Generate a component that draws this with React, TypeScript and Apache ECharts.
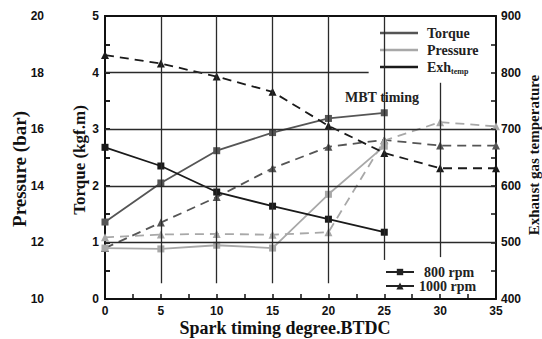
import React, { useEffect, useRef } from "react";
import * as echarts from "echarts";

// Spark timing (degrees BTDC)
const timing = [0, 5, 10, 15, 20, 25, 30, 35];

// Torque (kgf.m)
const torque800 = [1.36, 2.05, 2.62, 2.94, 3.19, 3.29];
const torque1000 = [0.9, 1.35, 1.8, 2.31, 2.69, 2.81, 2.71, 2.71];

// Cylinder pressure (bar)
const pressure800 = [11.8, 11.77, 11.9, 11.8, 13.7, 15.4];
const pressure1000 = [12.18, 12.28, 12.3, 12.27, 12.36, 15.6, 16.25, 16.1];

// Exhaust gas temperature
const exh800 = [668, 635, 589, 564, 541, 518];
const exh1000 = [831, 816, 793, 766, 706, 658, 631, 631];

const variableLegend = ["Torque", "Pressure", "Exh"];
const speedLegend = ["800 rpm", "1000 rpm"];

const TORQUE_COLOR = "#555555";
const PRESSURE_COLOR = "#a8a8a8";
const EXH_COLOR = "#1a1a1a";

const SERIF = "'Liberation Serif', 'Times New Roman', serif";
const SANS = "'Liberation Sans', Arial, sans-serif";

const pair = (ys: number[]) => ys.map((y, i) => [timing[i], y]);

const labelStyle = {
  fontFamily: SANS,
  fontWeight: "bold" as const,
  fontSize: 12,
  color: "#111",
};

const nameStyle = {
  fontFamily: SERIF,
  fontWeight: "bold" as const,
  fontSize: 17,
  color: "#111",
};

const legendText = {
  fontFamily: SERIF,
  fontWeight: "bold" as const,
  fontSize: 14,
  color: "#222",
};

const axisLine = { show: true, lineStyle: { color: "#111", width: 2 } };
const axisTick = { show: true, inside: true, length: 5, lineStyle: { color: "#111", width: 1.5 } };
const minorTick = { show: true, splitNumber: 2, length: 5, lineStyle: { color: "#111", width: 1.5 } };

function seg(a: [number, number], b: [number, number]) {
  return [{ coord: a }, { coord: b }];
}

export default function App() {
  const ref = useRef<HTMLDivElement>(null);

  useEffect(() => {
    if (!ref.current) return;
    const chart = echarts.init(ref.current, null, { renderer: "svg" });

    const dash = [9, 6];

    const mkSeries = (
      name: string,
      ys: number[],
      yAxisIndex: number,
      color: string,
      symbol: string,
      dashed: boolean
    ) => ({
      name,
      type: "line",
      xAxisIndex: 0,
      yAxisIndex,
      data: pair(ys),
      symbol,
      symbolSize: symbol === "triangle" ? 8 : 7,
      showSymbol: true,
      itemStyle: { color },
      lineStyle: { color, width: 1.8, type: dashed ? dash : "solid" },
      z: 3,
    });

    const option: any = {
      animation: false,
      backgroundColor: "#ffffff",
      grid: {
        left: 105,
        right: 46,
        top: 16,
        bottom: 40,
        containLabel: false,
        outerBoundsMode: "none",
      },
      legend: [
        {
          data: variableLegend,
          orient: "vertical",
          left: 380,
          top: 25,
          padding: 0,
          icon: "rect",
          itemWidth: 38,
          itemHeight: 2.5,
          itemGap: 1,
          selectedMode: false,
          textStyle: {
            ...legendText,
            lineHeight: 16,
            padding: [0, 0, 0, 4],
            rich: {
              sub: { fontFamily: SERIF, fontWeight: "bold", fontSize: 8, padding: [8, 0, 0, 0] },
            },
          },
          formatter: (n: string) => (n === "Exh" ? "Exh{sub|temp}" : n),
        },
        {
          data: [speedLegend[0]],
          orient: "vertical",
          left: 385,
          top: 265,
          padding: 0,
          itemWidth: 28,
          itemHeight: 8,
          selectedMode: false,
          textStyle: { ...legendText, lineHeight: 14, padding: [0, 0, 0, 5] },
        },
        {
          data: [speedLegend[1]],
          orient: "vertical",
          left: 385,
          top: 279,
          padding: 0,
          itemWidth: 28,
          itemHeight: 9,
          selectedMode: false,
          textStyle: { ...legendText, lineHeight: 14 },
        },
      ],
      xAxis: [
        {
          type: "value",
          min: 0,
          max: 35,
          interval: 5,
          position: "bottom",
          axisLine,
          axisTick,
          minorTick,
          splitLine: { show: false },
          axisLabel: { ...labelStyle, margin: 6 },
          name: "Spark timing degree.BTDC",
          nameLocation: "middle",
          nameMoveOverlap: false,
          nameGap: 20,
          nameTextStyle: { ...nameStyle, fontSize: 18, padding: [0, 31, 0, 0] },
        },
        {
          type: "value",
          min: 0,
          max: 35,
          position: "top",
          axisLine,
          axisTick: { show: false },
          axisLabel: { show: false },
          splitLine: { show: false },
        },
      ],
      yAxis: [
        {
          type: "value",
          min: 0,
          max: 5,
          interval: 1,
          position: "left",
          axisLine,
          axisTick,
          minorTick,
          splitLine: { show: false },
          axisLabel: { ...labelStyle, margin: 6 },
          name: "Torque (kgf.m)",
          nameLocation: "middle",
          nameMoveOverlap: false,
          nameRotate: 90,
          nameGap: 17,
          nameTextStyle: { ...nameStyle, padding: [0, 5, 0, 0] },
        },
        {
          type: "value",
          min: 10,
          max: 20,
          interval: 2,
          position: "left",
          offset: 56,
          axisLine,
          axisTick,
          minorTick,
          splitLine: { show: false },
          axisLabel: { ...labelStyle, margin: 5 },
          name: "Pressure (bar)",
          nameLocation: "middle",
          nameMoveOverlap: false,
          nameRotate: 90,
          nameGap: 20,
          nameTextStyle: { ...nameStyle, fontSize: 19, padding: [0, 23, 0, 0] },
        },
        {
          type: "value",
          min: 400,
          max: 900,
          interval: 100,
          position: "right",
          axisLine,
          axisTick,
          minorTick,
          splitLine: { show: false },
          axisLabel: { ...labelStyle, margin: 5 },
          name: "Exhaust gas temperature",
          nameLocation: "middle",
          nameMoveOverlap: false,
          nameRotate: 90,
          nameGap: 30,
          nameTextStyle: { ...nameStyle, fontSize: 15, padding: [0, 0, 0, 5] },
        },
      ],
      series: [
        // plot-area rules
        {
          name: "rules",
          type: "line",
          xAxisIndex: 0,
          yAxisIndex: 0,
          data: [],
          silent: true,
          z: 1,
          markLine: {
            silent: true,
            symbol: ["none", "none"],
            label: { show: false },
            lineStyle: { color: "#2a2a2a", width: 1.3, type: "solid" },
            data: [
              seg([0, 1], [35, 1]),
              seg([0, 2], [35, 2]),
              seg([0, 3], [35, 3]),
              seg([0, 4], [23.6, 4]),
              seg([5, 0.28], [5, 5]),
              seg([10, 0.28], [10, 5]),
              seg([15, 0.28], [15, 5]),
              seg([20, 0.28], [20, 5]),
              seg([25, 0.69], [25, 5]),
              seg([30, 0.74], [30, 3.82]),
            ],
          },
        },
        mkSeries("Torque 800", torque800, 0, TORQUE_COLOR, "rect", false),
        mkSeries("Torque 1000", torque1000, 0, TORQUE_COLOR, "triangle", true),
        mkSeries("Pressure 800", pressure800, 1, PRESSURE_COLOR, "rect", false),
        mkSeries("Pressure 1000", pressure1000, 1, PRESSURE_COLOR, "triangle", true),
        mkSeries("Exh 800", exh800, 2, EXH_COLOR, "rect", false),
        mkSeries("Exh 1000", exh1000, 2, EXH_COLOR, "triangle", true),
        // legend keys
        { name: "Torque", type: "line", data: [], symbol: "none", itemStyle: { color: TORQUE_COLOR }, lineStyle: { color: TORQUE_COLOR, width: 2 } },
        { name: "Pressure", type: "line", data: [], symbol: "none", itemStyle: { color: PRESSURE_COLOR }, lineStyle: { color: PRESSURE_COLOR, width: 2 } },
        { name: "Exh", type: "line", data: [], symbol: "none", itemStyle: { color: EXH_COLOR }, lineStyle: { color: EXH_COLOR, width: 2 } },
        { name: "800 rpm", type: "line", data: [], symbol: "rect", symbolSize: 7, itemStyle: { color: "#222" }, lineStyle: { color: "#222", width: 1.8 } },
        { name: "1000 rpm", type: "line", data: [], symbol: "triangle", symbolSize: 8, itemStyle: { color: "#222" }, lineStyle: { color: "#222", width: 1.8 } },
      ],
      graphic: [
        {
          type: "text",
          left: 345,
          top: 90,
          silent: true,
          style: {
            text: "MBT timing",
            fontFamily: SERIF,
            fontWeight: "bold",
            fontSize: 14,
            fill: "#222",
          },
        },
      ],
    };

    chart.setOption(option);
    return () => chart.dispose();
  }, []);

  return (
    <div
      ref={ref}
      style={{ position: "fixed", left: 0, top: 0, width: 542, height: 339, background: "#fff" }}
    />
  );
}
